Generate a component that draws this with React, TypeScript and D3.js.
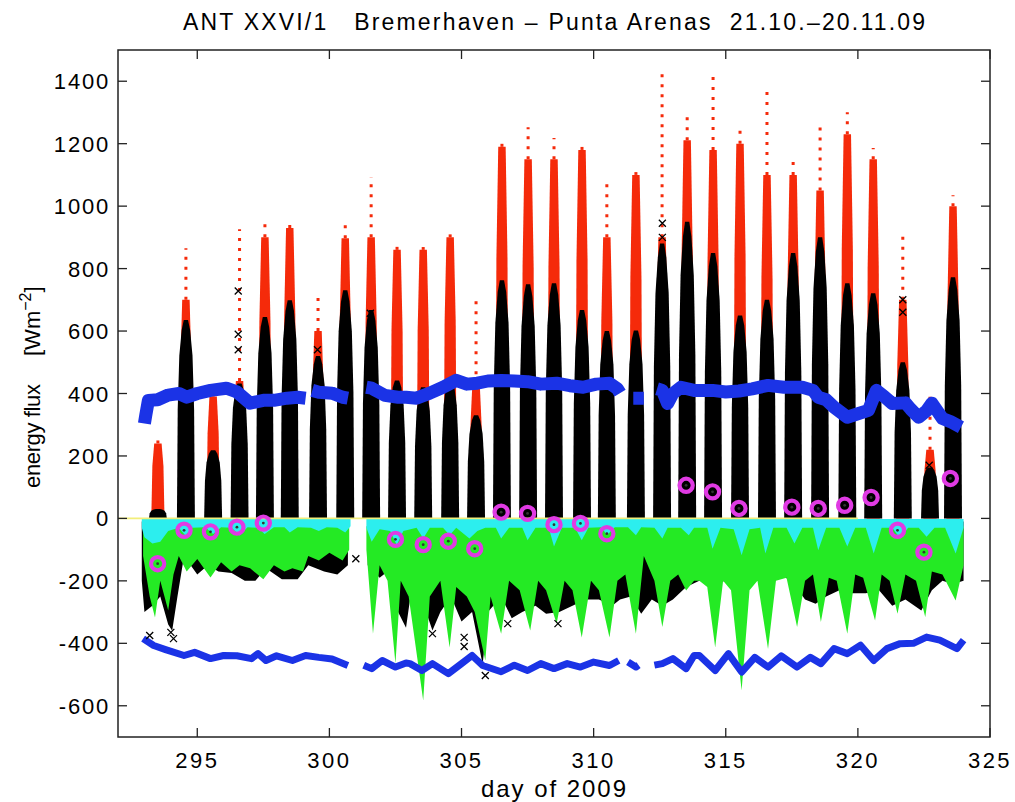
import React from "react";
import * as d3 from "d3";

// ---------- data ----------
const days = [293, 294, 295, 296, 297, 298, 299, 300, 301, 302, 303, 304, 305, 306, 307, 308, 309, 310, 311, 312, 313, 314, 315, 316, 317, 318, 319, 320, 321, 322, 323];
const noon = [293.51, 294.57, 295.6, 296.6, 297.56, 298.5, 299.57, 300.6, 301.58, 302.56, 303.55, 304.57, 305.55, 306.53, 307.52, 308.5, 309.56, 310.5, 311.6, 312.59, 313.54, 314.52, 315.54, 316.56, 317.55, 318.57, 319.6, 320.58, 321.7, 322.73, 323.6];
// incoming shortwave (red): sparse top and dense column top
const redTop = [266, 865, 420, 926, 942, 958, 721, 945, 1093, 880, 869, 913, 705, 1211, 1253, 1218, 1202, 1090, 1109, 1442, 1301, 1436, 1244, 1388, 1154, 1260, 1301, 1186, 913, 394, 1035];
const redBody = [240, 700, 390, 440, 900, 930, 600, 897, 900, 860, 860, 900, 430, 1190, 1150, 1150, 1180, 900, 1100, 900, 1211, 1180, 1200, 1100, 1100, 1050, 1230, 1150, 700, 220, 1000];
// net radiation (black) daytime peak
const blackPeak = [30, 635, 218, 432, 645, 699, 520, 731, 667, 442, 420, 442, 330, 763, 750, 753, 667, 600, 602, 880, 950, 850, 650, 700, 850, 900, 753, 721, 500, 163, 772];

// black net radiation, night-time lower envelope
const blackLo: [number, number | null][] = [
  [292.9, -200], [293.0, -300], [293.3, -280], [293.6, -250], [293.9, -340], [294.05, -360], [294.25, -250], [294.5, -120],
  [295.0, -180], [295.4, -150], [295.8, -170], [296.3, -175], [296.8, -200], [297.2, -200], [297.6, -160], [298.2, -195],
  [298.8, -195], [299.2, -150], [299.8, -170], [300.3, -180], [300.7, -150], [300.8, null], [301.45, -150], [301.9, -190],
  [302.2, -170], [302.6, -300], [302.9, -350], [303.1, -230], [303.5, -260], [303.9, -359], [304.2, -300], [304.6, -250],
  [305.0, -330], [305.4, -300], [305.8, -468], [306.0, -300], [306.5, -250], [306.9, -320], [307.3, -300], [307.8, -280],
  [308.2, -305], [308.7, -300], [309.2, -280], [309.7, -260], [310.2, -260], [310.7, -280], [311.0, -260], [311.4, -250],
  [311.8, -305], [312.2, -260], [312.6, -280], [313.0, -260], [313.5, -220], [314.0, -200], [314.5, -210], [315.0, -200],
  [315.5, -160], [316.0, -190], [316.5, -170], [317.0, -180], [317.5, -200], [318.0, -260], [318.4, -273], [318.8, -250],
  [319.3, -230], [319.8, -240], [320.3, -240], [320.8, -230], [321.3, -280], [321.8, -260], [322.4, -295], [322.8, -230],
  [323.2, -200], [323.6, -210], [324.0, -200],
];

// latent heat (green) lower envelope
const greenLo: [number, number | null][] = [
  [292.95, -120], [293.2, -250], [293.4, -317], [293.6, -200], [293.9, -295], [294.1, -180], [294.3, -120], [294.6, -170],
  [295.0, -130], [295.5, -189], [295.9, -140], [296.3, -170], [296.6, -150], [297.0, -160], [297.5, -195], [297.9, -150],
  [298.3, -170], [298.6, -160], [299.0, -170], [299.2, -120], [299.6, -135], [300.0, -110], [300.5, -135], [300.75, -100],
  [300.8, null], [301.4, -100], [301.65, -369], [301.9, -150], [302.2, -200], [302.5, -465], [302.7, -200], [303.0, -250],
  [303.55, -583], [303.8, -250], [304.2, -200], [304.55, -413], [304.8, -220], [305.2, -250], [305.5, -300], [305.9, -455],
  [306.1, -250], [306.5, -369], [306.8, -200], [307.2, -230], [307.6, -359], [307.9, -200], [308.2, -230], [308.6, -337],
  [308.9, -200], [309.2, -230], [309.55, -381], [309.9, -200], [310.2, -230], [310.6, -381], [310.9, -200], [311.2, -180],
  [311.6, -369], [311.9, -120], [312.3, -200], [312.6, -348], [312.9, -200], [313.2, -180], [313.5, -231], [313.8, -200],
  [314.0, -200], [314.3, -220], [314.6, -413], [314.9, -200], [315.2, -230], [315.6, -551], [315.9, -230], [316.2, -200],
  [316.6, -418], [316.9, -200], [317.3, -190], [317.7, -348], [318.0, -200], [318.3, -180], [318.6, -332], [318.9, -190],
  [319.2, -200], [319.6, -369], [319.9, -180], [320.2, -190], [320.65, -327], [320.9, -180], [321.2, -200], [321.5, -305],
  [321.8, -180], [322.2, -200], [322.55, -316], [322.8, -170], [323.2, -180], [323.7, -263], [324.0, -150],
];

// sensible heat (cyan) lower envelope
const cyanLo: [number, number | null][] = [
  [292.9, -30], [293.0, -60], [293.3, -80], [293.6, -75], [293.9, -40], [294.3, -30], [294.55, -55], [294.8, -30],
  [295.3, -28], [295.6, -50], [295.9, -28], [296.3, -30], [296.6, -55], [296.9, -28], [297.3, -30], [297.55, -50],
  [297.9, -28], [298.3, -28], [298.5, -45], [298.8, -28], [299.3, -30], [299.6, -40], [299.9, -28], [300.3, -30],
  [300.6, -45], [300.8, -25], [300.85, null], [301.4, -30], [301.6, -75], [301.9, -35], [302.3, -40], [302.55, -85],
  [302.8, -40], [303.3, -30], [303.55, -64], [303.8, -30], [304.3, -30], [304.55, -54], [304.8, -30], [305.3, -64],
  [305.6, -40], [305.9, -30], [306.3, -30], [306.5, -64], [306.8, -30], [307.3, -30], [307.5, -70], [307.8, -30],
  [308.3, -30], [308.5, -90], [308.8, -30], [309.3, -30], [309.55, -70], [309.8, -30], [310.3, -28], [310.5, -54],
  [310.8, -28], [311.3, -28], [311.6, -54], [311.8, -28], [312.3, -30], [312.6, -64], [312.8, -30], [313.3, -30],
  [313.6, -54], [313.8, -30], [314.3, -30], [314.5, -97], [314.8, -30], [315.3, -35], [315.6, -118], [315.9, -35],
  [316.3, -30], [316.5, -112], [316.8, -30], [317.3, -30], [317.6, -80], [317.9, -30], [318.3, -30], [318.5, -102],
  [318.8, -30], [319.3, -30], [319.6, -90], [319.9, -30], [320.3, -30], [320.6, -112], [320.9, -30], [321.3, -30],
  [321.6, -64], [321.9, -30], [322.3, -30], [322.6, -59], [322.9, -30], [323.3, -30], [323.7, -112], [324.0, -30],
];

// incoming longwave (blue, upper)
const lwIn: [number, number | null][] = [
  [293.0, 304], [293.05, 330], [293.15, 378], [293.5, 380], [293.9, 395], [294.3, 400], [294.6, 388], [295.0, 400],
  [295.5, 410], [296.1, 417], [296.5, 405], [297.0, 369], [297.5, 378], [297.9, 378], [298.4, 385], [298.8, 388],
  [299.1, 385], [299.2, null], [299.35, 410], [299.6, 404], [300.1, 401], [300.5, 388], [300.7, 385], [300.8, null],
  [301.4, 420], [301.6, 417], [302.1, 394], [302.6, 388], [302.9, 388], [303.3, 385], [303.8, 401], [304.3, 420],
  [304.8, 442], [305.2, 430], [305.6, 433], [306.0, 440], [306.5, 442], [307.0, 440], [307.5, 438], [308.0, 430],
  [308.6, 433], [309.1, 425], [309.6, 420], [310.1, 430], [310.6, 433], [310.9, 415], [311.0, 401], [311.1, null],
  [311.5, 385], [311.9, 385], [312.0, null], [312.4, 415], [312.6, 410], [312.8, 368], [313.0, 400], [313.3, 420],
  [313.8, 410], [314.5, 410], [315.0, 405], [315.5, 408], [316.0, 415], [316.6, 426], [317.2, 420], [317.9, 420],
  [318.3, 410], [318.5, 388], [318.8, 380], [319.1, 356], [319.6, 324], [320.0, 335], [320.4, 346], [320.7, 410],
  [321.0, 390], [321.3, 368], [321.8, 370], [322.0, 350], [322.3, 324], [322.6, 345], [322.8, 369], [323.2, 320],
  [323.5, 310], [323.9, 292],
];

// outgoing longwave (blue, lower)
const lwOut: [number, number | null][] = [
  [292.95, -385], [293.35, -407], [293.8, -420], [294.5, -439], [294.9, -429], [295.5, -449], [296.0, -439], [296.5, -440],
  [297.05, -449], [297.3, -433], [297.6, -455], [298.0, -440], [298.6, -455], [299.1, -439], [299.6, -445], [300.1, -450],
  [300.7, -471], [300.8, null], [301.3, -470], [301.6, -481], [302.0, -455], [302.5, -476], [302.9, -463], [303.05, -465],
  [303.5, -487], [303.9, -465], [304.5, -497], [305.0, -465], [305.4, -439], [305.8, -471], [306.5, -491], [307.0, -470],
  [307.5, -487], [308.0, -465], [308.5, -481], [309.0, -465], [309.5, -476], [310.0, -460], [310.6, -471], [310.95, -455],
  [311.0, null], [311.3, -460], [311.6, -476], [311.7, -470], [311.8, null], [312.3, -470], [312.6, -465], [313.0, -449],
  [313.5, -481], [313.8, -439], [314.0, -439], [314.6, -487], [315.1, -433], [315.6, -492], [316.1, -445], [316.6, -476],
  [317.1, -440], [317.7, -476], [318.2, -445], [318.6, -465], [319.1, -417], [319.6, -433], [320.1, -406], [320.6, -455],
  [321.1, -417], [321.6, -401], [322.1, -400], [322.6, -380], [323.1, -390], [323.75, -417], [324.0, -390],
];

// daily means (magenta circles)
const meanT = [293.5, 294.5, 295.5, 296.5, 297.5, 302.5, 303.55, 304.5, 305.5, 306.5, 307.5, 308.5, 309.5, 310.5, 313.5, 314.5, 315.5, 317.5, 318.5, 319.5, 320.5, 321.5, 322.5, 323.5];
const meanV = [-145, -38, -43, -28, -15, -67, -84, -73, -97, 20, 16, -20, -16, -49, 106, 85, 32, 36, 32, 42, 67, -38, -108, 128];

// isolated black x markers
const xMarks: [number, number][] = [
  [293.2, -375], [294.0, -365], [294.1, -385], [296.55, 728], [296.55, 590], [296.55, 540], [299.55, 540], [301.0, -129],
  [301.55, 657], [301.55, 600], [303.9, -369], [305.1, -381], [305.1, -410], [305.9, -503], [306.75, -337], [308.65, -337],
  [312.6, 945], [312.6, 900], [321.7, 700], [321.7, 660], [322.7, 170],
];

const xTicks = [295, 300, 305, 310, 315, 320, 325];
const yTicks = [-600, -400, -200, 0, 200, 400, 600, 800, 1000, 1200, 1400];
const zeroLine = [292, 320];

// ---------- layout ----------
const W = 1015, H = 802;
const L = 118, R = 990, T = 50, B = 737;
const FONT = "'Liberation Sans', Arial, Helvetica, sans-serif";

export default function App() {
  const x = d3.scaleLinear().domain([292, 325]).range([L, R]);
  const y = d3.scaleLinear().domain([-700, 1500]).range([B, T]);

  const areaTo = (top: number) =>
    d3.area<[number, number | null]>()
      .defined((d) => d[1] !== null)
      .x((d) => x(d[0]))
      .y0(y(top))
      .y1((d) => y(d[1] as number));
  const line = d3.line<[number, number | null]>()
    .defined((d) => d[1] !== null)
    .x((d) => x(d[0]))
    .y((d) => y(d[1] as number));

  const poly = d3.line<[number, number]>().x((d) => x(d[0])).y((d) => y(d[1]));

  const blackCols = days.map((d, i) => {
    const c = noon[i], p = blackPeak[i];
    const pts: [number, number][] = [
      [c - 0.34, 0], [c - 0.31, 0.55 * p], [c - 0.25, 0.82 * p], [c - 0.16, 0.95 * p], [c - 0.08, p],
      [c + 0.08, p], [c + 0.16, 0.95 * p], [c + 0.25, 0.82 * p], [c + 0.31, 0.55 * p], [c + 0.34, 0],
    ];
    return poly(pts) + "Z";
  });
  const redCols = days.map((d, i) => {
    const c = noon[i], p = redBody[i];
    const pts: [number, number][] = [
      [c - 0.25, 0], [c - 0.21, 0.7 * p], [c - 0.14, p], [c + 0.14, p], [c + 0.21, 0.7 * p], [c + 0.25, 0],
    ];
    return poly(pts) + "Z";
  });

  const red = "#f52a0a", blue = "#1b33e6", green = "#24ea24", cyan = "#2ceeee", magenta = "#e03ae3";

  return (
    <svg width={W} height={H} style={{ display: "block", position: "absolute", left: 0, top: 0, background: "#fff" }}>
      <defs>
        <clipPath id="plot"><rect x={L} y={T} width={R - L} height={B - T} /></clipPath>
      </defs>
      <rect x={0} y={0} width={W} height={H} fill="#fff" />
      <g clipPath="url(#plot)">
        <path d={areaTo(-10)(blackLo) || ""} fill="#000" />
        {redCols.map((p, i) => <path key={"r" + i} d={p} fill={red} />)}
        {days.map((d, i) => (
          <line key={"rd" + i} x1={x(noon[i])} x2={x(noon[i])} y1={y(redBody[i])} y2={y(redTop[i])}
            stroke={red} strokeWidth={3} strokeDasharray="3 7" />
        ))}
        {blackCols.map((p, i) => <path key={"b" + i} d={p} fill="#000" />)}
        <path d={line(lwIn) || ""} fill="none" stroke={blue} strokeWidth={13} strokeLinejoin="round" />
        <path d={areaTo(-25)(greenLo) || ""} fill={green} />
        <path d={line(lwOut) || ""} fill="none" stroke={blue} strokeWidth={7} strokeLinejoin="round" />
        <path d={areaTo(-2)(cyanLo) || ""} fill={cyan} />
        <line x1={x(zeroLine[0])} x2={x(zeroLine[1])} y1={y(0)} y2={y(0)} stroke="#f2ee7a" strokeWidth={1.6} />
        {xMarks.map((m, i) => (
          <path key={"x" + i} transform={`translate(${x(m[0])},${y(m[1])})`} d="M-3.5,-3.5L3.5,3.5M-3.5,3.5L3.5,-3.5"
            stroke="#000" strokeWidth={1.3} />
        ))}
        {meanT.map((t, i) => (
          <g key={"m" + i}>
            <circle cx={x(t)} cy={y(meanV[i])} r={6.6} fill="none" stroke={magenta} strokeWidth={4.2} />
            <circle cx={x(t)} cy={y(meanV[i])} r={1.4} fill="#333" />
          </g>
        ))}
      </g>
      {/* axes box */}
      <rect x={L} y={T} width={R - L} height={B - T} fill="none" stroke="#222" strokeWidth={1.5} />
      {xTicks.map((t) => (
        <g key={"xt" + t}>
          <line x1={x(t)} x2={x(t)} y1={B} y2={B - 9} stroke="#222" strokeWidth={1.3} />
          <line x1={x(t)} x2={x(t)} y1={T} y2={T + 9} stroke="#222" strokeWidth={1.3} />
          <text x={x(t)} y={768} textAnchor="middle" fontFamily={FONT} fontSize={22} letterSpacing={2.5} fill="#000">{t}</text>
        </g>
      ))}
      {yTicks.map((t) => (
        <g key={"yt" + t}>
          <line x1={L} x2={L + 9} y1={y(t)} y2={y(t)} stroke="#222" strokeWidth={1.3} />
          <line x1={R} x2={R - 9} y1={y(t)} y2={y(t)} stroke="#222" strokeWidth={1.3} />
          <text x={110} y={y(t) + 8} textAnchor="end" fontFamily={FONT} fontSize={22} letterSpacing={1.8} fill="#000">{t}</text>
        </g>
      ))}
      <text x={183} y={30} textAnchor="start" fontFamily={FONT} fontSize={23} fill="#000"
        textLength={742} lengthAdjust="spacing" style={{ whiteSpace: "pre" }}>
        {"ANT XXVI/1   Bremerhaven – Punta Arenas  21.10.–20.11.09"}
      </text>
      <text x={481} y={797} textAnchor="start" fontFamily={FONT} fontSize={24} fill="#000"
        textLength={145} lengthAdjust="spacing">day of 2009</text>
      <g transform="translate(40,0) rotate(-90)">
        <text x={-488} y={0} textAnchor="start" fontFamily={FONT} fontSize={22} fill="#000"
          textLength={104} lengthAdjust="spacing">energy flux</text>
        <text x={-356} y={0} textAnchor="start" fontFamily={FONT} fontSize={22} fill="#000">
          [Wm<tspan dy={-9} fontSize={16}>−2</tspan><tspan dy={9}>]</tspan>
        </text>
      </g>
    </svg>
  );
}
